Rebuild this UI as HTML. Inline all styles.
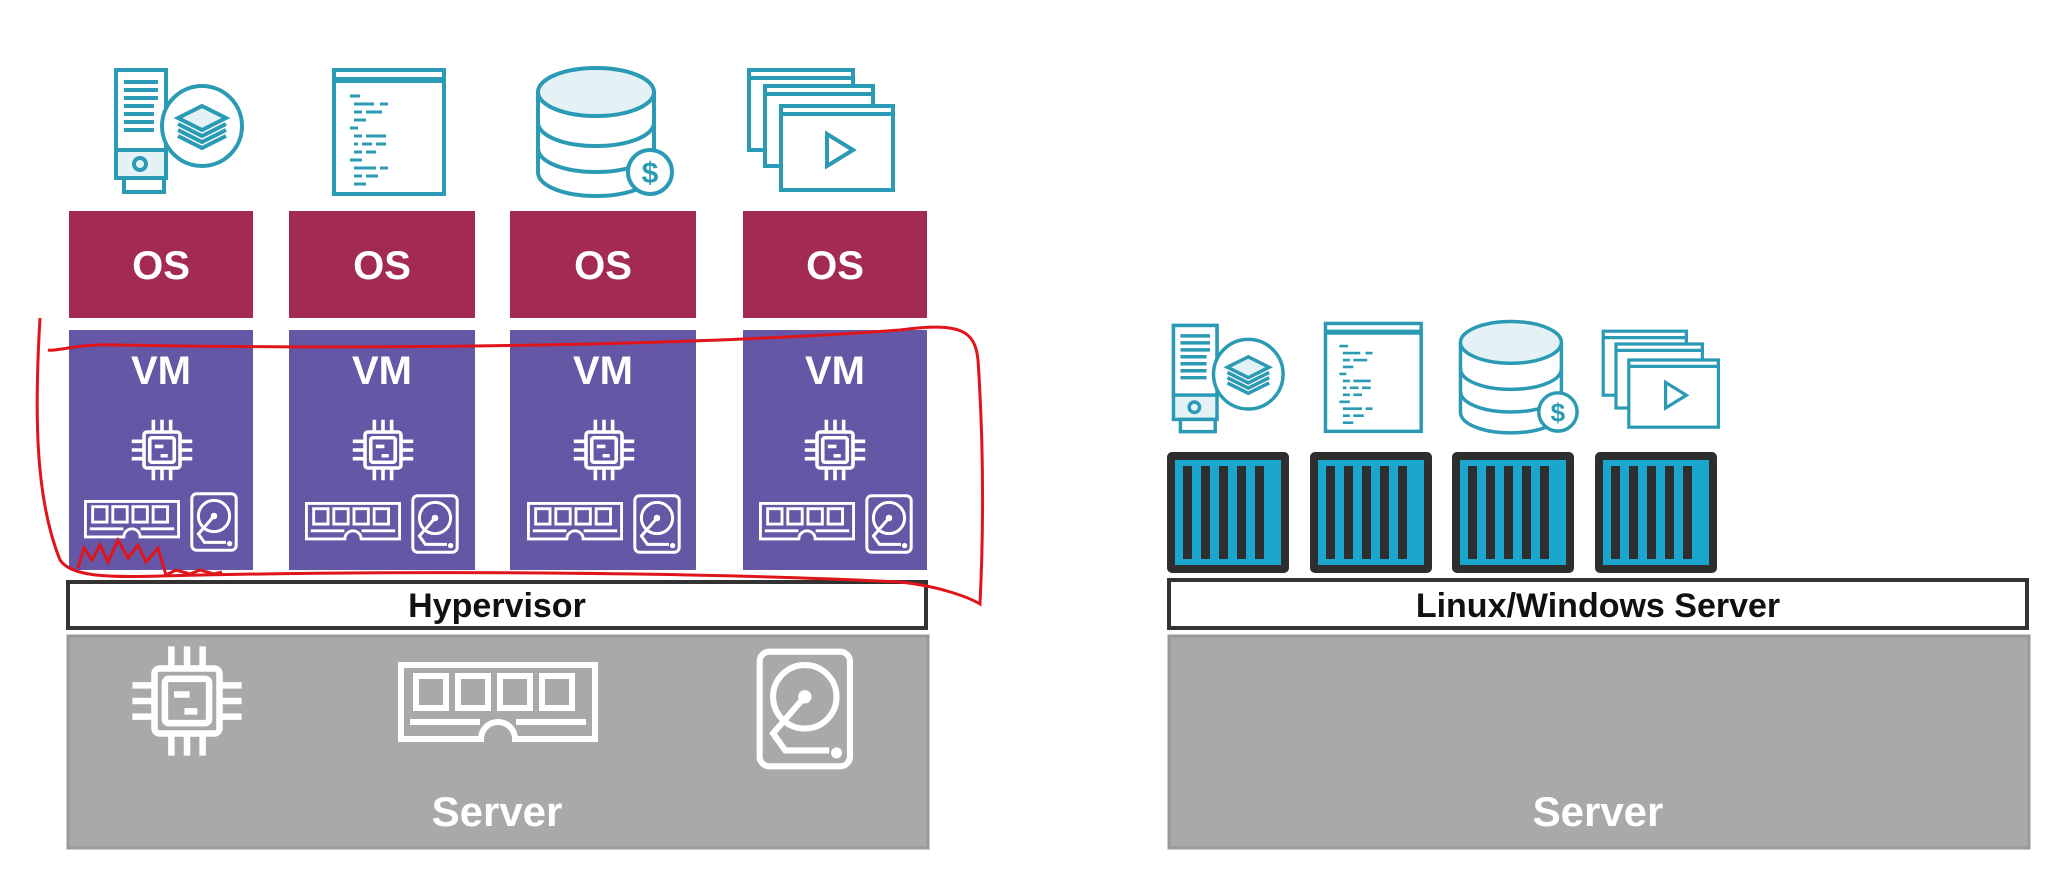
<!DOCTYPE html>
<html><head><meta charset="utf-8"><style>
html,body{margin:0;padding:0;background:#fff;}
svg{display:block}
text{font-family:"Liberation Sans",sans-serif;font-weight:bold}
</style></head><body>
<svg width="2068" height="895" viewBox="0 0 2068 895" xmlns="http://www.w3.org/2000/svg">
<defs>
 <g id="chip" fill="none" stroke="#fff" stroke-width="5">
  <rect x="25" y="25" width="50" height="50" rx="4"/>
  <rect x="33" y="33" width="34" height="34" rx="3"/>
  <path d="M40 45h12M48 58h10"/>
  <path d="M38 25V8M50 25V8M62 25V8M38 75v17M50 75v17M62 75v17M25 38H8M25 50H8M25 62H8M75 38h17M75 50h17M75 62h17"/>
 </g>
 <g id="ram" fill="none" stroke="#fff" stroke-width="6">
  <path d="M3 3h194v74h-80a17 17 0 0 0-34 0H3z"/>
  <path d="M12 60h70M118 60h70"/>
  <rect x="18" y="14" width="30" height="32"/><rect x="60" y="14" width="30" height="32"/><rect x="102" y="14" width="30" height="32"/><rect x="144" y="14" width="30" height="32"/>
 </g>
 <g id="hdd" fill="none" stroke="#fff" stroke-width="5">
  <rect x="3" y="3" width="74" height="94" rx="8"/>
  <circle cx="40" cy="40" r="26"/>
  <circle cx="40" cy="40" r="3" fill="#fff"/>
  <path d="M40 40 L14 70 L24 84 L60 84"/>
  <circle cx="66" cy="86" r="2" fill="#fff"/>
 </g>
 <g id="ic1" fill="none" stroke="#2a9ab5" stroke-width="4">
  <rect x="4" y="4" width="50" height="108" fill="#e4f2f6"/>
  <rect x="4" y="4" width="50" height="80" fill="#fff"/>
  <rect x="12" y="112" width="40" height="14" fill="#fff"/>
  <path d="M12 16h34M12 24h34M12 32h34M12 40h30M12 48h30M12 56h30M12 64h30"/>
  <circle cx="28" cy="98" r="6"/>
  <circle cx="90" cy="60" r="40" fill="#fff"/>
  <path d="M66 52l24-12 24 12-24 12z" fill="#e4f2f6"/>
  <path d="M66 58l24 12 24-12M66 64l24 12 24-12M66 70l24 12 24-12"/>
 </g>
 <g id="ic2" fill="none" stroke="#2a9ab5" stroke-width="4">
  <rect x="4" y="4" width="110" height="124" fill="#fff"/>
  <path d="M4 14h110" stroke-width="6"/>
  <path d="M20 30h10M24 38h20M50 38h8M24 46h8M36 46h16M24 54h12M20 62h8M24 70h8M36 70h20M24 78h4M32 78h10M46 78h10M24 86h8M36 86h10M20 94h12M24 102h22M50 102h8M24 110h8M36 110h12M24 118h12" stroke-width="3"/>
 </g>
 <g id="ic3" fill="none" stroke="#2a9ab5" stroke-width="4">
  <path d="M4 28v80c0 14 26 24 58 24s58-10 58-24V28" fill="#fff"/>
  <ellipse cx="62" cy="28" rx="58" ry="24" fill="#e4f2f6"/>
  <path d="M4 58c0 14 26 24 58 24s58-10 58-24M4 84c0 14 26 24 58 24s58-10 58-24"/>
  <circle cx="116" cy="108" r="22" fill="#fff"/>
  <text x="116" y="119" text-anchor="middle" font-size="30" fill="#2a9ab5" stroke="none">$</text>
 </g>
 <g id="ic4" fill="none" stroke="#2a9ab5" stroke-width="4">
  <rect x="4" y="4" width="104" height="80" fill="#fff"/><path d="M4 12h104"/>
  <rect x="20" y="20" width="108" height="80" fill="#fff"/><path d="M20 28h108"/>
  <rect x="36" y="40" width="112" height="84" fill="#fff"/><path d="M36 48h112"/>
  <path d="M82 68v32l26-16z"/>
 </g>
 <g id="cont">
  <rect x="0" y="0" width="122" height="121" rx="5" fill="#2e2e2e"/>
  <rect x="8" y="8" width="106" height="105" fill="#1aa6cd"/>
  <g fill="#2e2e2e"><rect x="16" y="14" width="9" height="93"/><rect x="34" y="14" width="9" height="93"/><rect x="52" y="14" width="9" height="93"/><rect x="70" y="14" width="9" height="93"/><rect x="88" y="14" width="9" height="93"/></g>
 </g>
</defs>

<!-- left icons -->
<use href="#ic1" transform="translate(112,66) scale(1.0)"/>
<use href="#ic2" transform="translate(330,66)"/>
<use href="#ic3" transform="translate(534,64)"/>
<use href="#ic4" transform="translate(745,66)"/>

<!-- OS -->
<g fill="#a32a55">
 <rect x="69" y="211" width="184" height="107"/><rect x="289" y="211" width="186" height="107"/>
 <rect x="510" y="211" width="186" height="107"/><rect x="743" y="211" width="184" height="107"/>
</g>
<g fill="#fff" font-size="40" text-anchor="middle">
 <text x="161" y="279">OS</text><text x="382" y="279">OS</text><text x="603" y="279">OS</text><text x="835" y="279">OS</text>
</g>
<!-- VM -->
<g fill="#6656a6">
 <rect x="69" y="330" width="184" height="240"/><rect x="289" y="330" width="186" height="240"/>
 <rect x="510" y="330" width="186" height="240"/><rect x="743" y="330" width="184" height="240"/>
</g>
<g fill="#fff" font-size="40" text-anchor="middle">
 <text x="161" y="384">VM</text><text x="382" y="384">VM</text><text x="603" y="384">VM</text><text x="835" y="384">VM</text>
</g>
<g>
 <use href="#chip" transform="translate(126,414) scale(0.72)"/>
 <use href="#ram" transform="translate(84,500) scale(0.48)"/>
 <use href="#hdd" transform="translate(190,492) scale(0.6)"/>
 <use href="#chip" transform="translate(347,414) scale(0.72)"/>
 <use href="#ram" transform="translate(305,502) scale(0.48)"/>
 <use href="#hdd" transform="translate(411,494) scale(0.6)"/>
 <use href="#chip" transform="translate(568,414) scale(0.72)"/>
 <use href="#ram" transform="translate(527,502) scale(0.48)"/>
 <use href="#hdd" transform="translate(633,494) scale(0.6)"/>
 <use href="#chip" transform="translate(799,414) scale(0.72)"/>
 <use href="#ram" transform="translate(759,502) scale(0.48)"/>
 <use href="#hdd" transform="translate(865,494) scale(0.6)"/>
</g>

<!-- Hypervisor -->
<rect x="68" y="582" width="858" height="46" fill="#fff" stroke="#333" stroke-width="4"/>
<text x="497" y="617" font-size="34" text-anchor="middle" fill="#111">Hypervisor</text>
<rect x="68" y="636" width="860" height="212" fill="#a9a9a9" stroke="#999" stroke-width="3"/>
<use href="#chip" transform="translate(122,636) scale(1.3)"/>
<use href="#ram" transform="translate(398,662) scale(1.0)"/>
<use href="#hdd" transform="translate(756,648) scale(1.22)"/>
<text x="497" y="826" font-size="42" text-anchor="middle" fill="#fff">Server</text>

<!-- right -->
<use href="#ic1" transform="translate(1170,322) scale(0.87)"/>
<use href="#ic2" transform="translate(1322,320) scale(0.87)"/>
<use href="#ic3" transform="translate(1457,318) scale(0.87)"/>
<use href="#ic4" transform="translate(1600,328) scale(0.80)"/>
<use href="#cont" transform="translate(1167,452)"/>
<use href="#cont" transform="translate(1310,452)"/>
<use href="#cont" transform="translate(1452,452)"/>
<use href="#cont" transform="translate(1595,452)"/>
<rect x="1169" y="580" width="858" height="48" fill="#fff" stroke="#333" stroke-width="4"/>
<text x="1598" y="617" font-size="34" text-anchor="middle" fill="#111">Linux/Windows Server</text>
<rect x="1169" y="636" width="860" height="212" fill="#a9a9a9" stroke="#999" stroke-width="3"/>
<text x="1598" y="826" font-size="42" text-anchor="middle" fill="#fff">Server</text>

<!-- red annotation -->
<path d="M40 318 C34 420 36 500 60 560 C70 575 100 578 160 576 C400 570 700 572 900 582 C940 586 970 598 980 604 C985 500 982 420 978 360 C975 330 960 322 900 330 C700 345 400 350 120 345 C80 343 55 352 48 350" fill="none" stroke="#e0151b" stroke-width="3"/>
<path d="M78 568 L84 548 L92 560 L100 545 L108 562 L118 540 L128 558 L138 545 L146 562 L158 548 L166 575 L176 570 L190 574 L200 570 L214 574 L222 572" fill="none" stroke="#e0151b" stroke-width="3"/>
</svg>
</body></html>
